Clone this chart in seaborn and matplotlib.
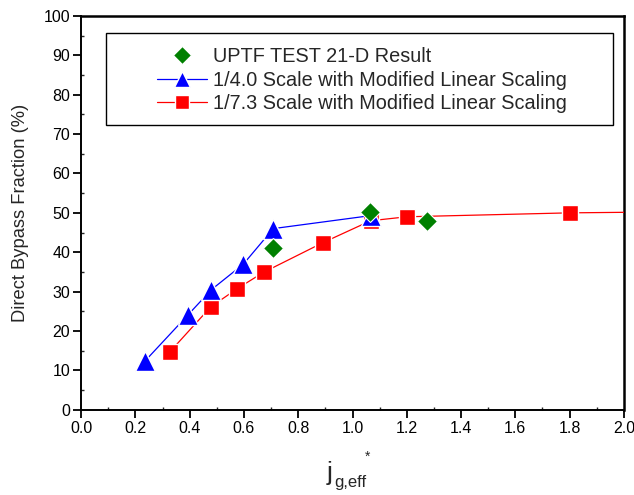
import matplotlib
matplotlib.use("Agg")
import matplotlib.pyplot as plt
import seaborn as sns
from matplotlib.ticker import MultipleLocator, FormatStrFormatter
from matplotlib.patches import Rectangle

# data
uptf_x = [0.706, 1.064, 1.273]
uptf_y = [41.0, 50.2, 48.0]

scale4_x = [0.234, 0.395, 0.48, 0.598, 0.708, 1.067]
scale4_y = [12.3, 24.2, 30.5, 37.0, 46.0, 49.3]

scale7_x = [0.328, 0.477, 0.576, 0.672, 0.890, 1.067, 1.20, 1.80, 2.40]
scale7_y = [14.8, 26.1, 30.8, 34.9, 42.4, 48.0, 49.0, 50.0, 50.4]

labels = ["UPTF TEST 21-D Result",
          "1/4.0 Scale with Modified Linear Scaling",
          "1/7.3 Scale with Modified Linear Scaling"]

sns.set_style("ticks")
plt.rcParams["font.family"] = ["Liberation Sans", "DejaVu Sans"]

fig, ax = plt.subplots(figsize=(6.34, 4.95), dpi=100)
fig.subplots_adjust(left=0.128, right=0.984, top=0.968, bottom=0.172)

sns.lineplot(x=scale7_x, y=scale7_y, ax=ax, color="red", linewidth=0.9,
             marker="s", markersize=11.5, markeredgecolor="white",
             markeredgewidth=1.0, markerfacecolor="red", sort=False,
             label=labels[2], zorder=3)
sns.lineplot(x=scale4_x, y=scale4_y, ax=ax, color="blue", linewidth=0.9,
             marker="^", markersize=14, markeredgecolor="white",
             markeredgewidth=1.0, markerfacecolor="blue", sort=False,
             label=labels[1], zorder=4)
ax.plot(uptf_x, uptf_y, linestyle="none", marker="D", markersize=10.5,
        color="green", markeredgecolor="white", markeredgewidth=0.8,
        label=labels[0], zorder=5)

ax.set_xlim(0, 2.0)
ax.set_ylim(0, 100)
ax.xaxis.set_major_locator(MultipleLocator(0.2))
ax.xaxis.set_minor_locator(MultipleLocator(0.1))
ax.yaxis.set_major_locator(MultipleLocator(10))
ax.yaxis.set_minor_locator(MultipleLocator(5))
ax.xaxis.set_major_formatter(FormatStrFormatter("%.1f"))

ax.tick_params(which="major", direction="out", length=5.5, width=1.3,
               labelsize=11.5, colors="black", pad=2.5, top=False, right=False)
ax.tick_params(which="minor", direction="in", length=2, width=1)
for name, s in ax.spines.items():
    s.set_visible(True)
    s.set_color("black")
    s.set_linewidth(1.8 if name in ("top", "right") else 1.4)

ax.set_ylabel("Direct Bypass Fraction (%)", fontsize=13.2)
ax.yaxis.set_label_coords(-0.096, 0.5)

# x label: j with subscript g,eff and a raised star
ax.set_xlabel("")
W, H = 634.0, 495.0
fig.text(327 / W, 1 - 480 / H, "j", fontsize=19, va="baseline", ha="left")
fig.text(334 / W, 1 - 487 / H, "g,eff", fontsize=12, va="baseline", ha="left")
fig.text(368 / W, 1 - 457 / H, "*", fontsize=10, va="center", ha="center")

handles, labs = ax.get_legend_handles_labels()
order = [labs.index(l) for l in labels]
leg = ax.legend([handles[i] for i in order], [labs[i] for i in order],
                loc="upper left", bbox_to_anchor=(0.14, 0.92),
                fontsize=14.3, frameon=False, handlelength=2.5,
                borderpad=0, labelspacing=0.22, handletextpad=0.3,
                borderaxespad=0, markerscale=0.85)
ax.add_patch(Rectangle((0.046, 0.723), 0.934, 0.2335, transform=ax.transAxes,
                       fill=False, edgecolor="black", linewidth=1.0, zorder=6))

fig.savefig("out.png", dpi=100)
